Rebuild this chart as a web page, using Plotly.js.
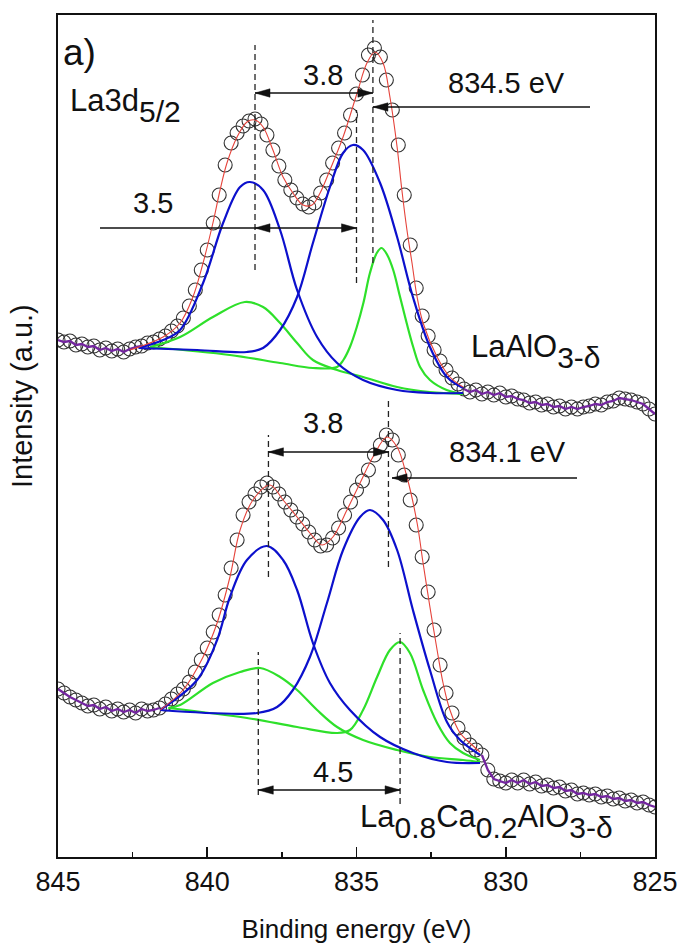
<!DOCTYPE html>
<html>
<head>
<meta charset="utf-8">
<script src="https://cdn.plot.ly/plotly-3.0.1.min.js"></script>
<style>html,body{margin:0;padding:0;background:#fff;}#chart{width:681px;height:952px;}</style>
</head>
<body>
<div id="chart"></div>
<script>
// ---------- data (binding energy in eV, intensity in a.u.) ----------
const energy = [845.0,844.8,844.6,844.4,844.2,844.0,843.8,843.6,843.4,843.2,843.0,842.8,842.6,842.4,842.2,842.0,841.8,841.6,841.4,841.2,841.0,840.8,840.6,840.4,840.2,840.0,839.8,839.6,839.4,839.2,839.0,838.8,838.6,838.4,838.2,838.0,837.8,837.6,837.4,837.2,837.0,836.8,836.6,836.4,836.2,836.0,835.8,835.6,835.4,835.2,835.0,834.8,834.6,834.4,834.2,834.0,833.8,833.6,833.4,833.2,833.0,832.8,832.6,832.4,832.2,832.0,831.8,831.6,831.4,831.2,831.0,830.8,830.6,830.4,830.2,830.0,829.8,829.6,829.4,829.2,829.0,828.8,828.6,828.4,828.2,828.0,827.8,827.6,827.4,827.2,827.0,826.8,826.6,826.4,826.2,826.0,825.8,825.6,825.4,825.2,825.0];

// LaAlO3-d measured spectrum
const topData = [517,515,516,512,513,510,511,507,509,506,508,505,508,510,511,514,515,518,521,526,531,539,551,567,587,607,634,662,692,714,724,731,736,738,733,722,707,691,677,667,659,653,650,654,664,677,694,709,724,742,763,782,802,809,800,777,747,712,662,612,569,541,521,507,496,487,479,473,468,465,467,463,465,462,464,460,461,458,457,454,455,452,453,450,451,448,450,448,450,451,453,452,455,456,459,458,457,455,453,448,443];
// La0.8Ca0.2AlO3-d measured spectrum
const botData = [168,164,160,157,154,151,152,148,150,146,148,145,147,144,148,146,147,149,153,158,163,168,175,185,197,209,225,242,262,289,317,342,355,363,370,374,370,363,355,347,340,333,325,317,311,312,319,329,342,355,367,376,387,402,412,422,417,402,382,357,332,300,265,227,192,164,144,129,119,112,107,102,87,78,76,74,77,74,77,73,75,71,72,69,70,66,67,63,64,62,63,60,61,58,59,56,57,54,55,52,50];

// fitted envelopes
const topFitE = [842.59,841.48,840.91,840.48,840.14,839.81,839.57,839.34,839.00,838.67,838.40,838.13,837.80,837.46,837.13,836.79,836.49,836.22,835.89,835.45,834.98,834.65,834.38,834.11,833.88,833.64,833.48,833.31,833.14,832.97,832.77,832.30,831.87,831.43];
const topFitI = [507,520,534,560,594,634,667,694,720,735,737,730,707,680,664,652,652,664,687,720,764,794,805,794,760,710,667,627,594,560,534,500,480,470];
const botFitE = [841.58,840.81,840.14,839.67,839.24,838.90,838.47,837.90,837.46,836.99,836.56,836.16,835.79,835.32,834.88,834.45,833.98,833.64,833.31,832.97,832.77,832.54,832.30,832.10,831.87,831.53,831.20,830.86];
const botFitI = [147,167,200,234,280,327,357,372,357,340,324,312,320,347,374,400,420,410,380,334,294,250,207,174,147,124,114,105];

// fitted components, LaAlO3-d
const topBlue1E = [842.30,841.48,840.91,840.14,839.47,838.90,838.57,838.13,837.56,836.99,836.32,835.65,834.78,833.64,832.54,831.43];
const topBlue1I = [509,517,527,574,634,670,675,667,627,567,520,494,477,467,464,464];
const topBlue2E = [842.30,840.34,838.67,838.13,837.56,836.99,836.46,835.89,835.45,835.12,834.78,834.21,833.64,833.11,832.54,831.97,831.43];
const topBlue2I = [509,507,505,509,527,560,614,670,704,712,707,674,620,560,510,480,469];
const topGreen1E = [841.92,840.91,839.81,838.74,838.13,837.56,836.99,836.46,835.65,834.78,833.64,832.54,831.43];
const topGreen1I = [510,520,540,555,550,534,514,497,487,480,470,465,463];
const topGreen2E = [841.92,839.24,837.56,836.46,835.65,835.44,835.22,834.99,834.77,834.55,834.32,834.16,833.97,833.77,833.54,833.32,833.10,832.87,832.54,831.98,831.43];
const topGreen2I = [510,502,494,489,490,497,510,530,554,584,604,609,602,587,560,534,510,490,477,467,463];

// fitted components, La0.8Ca0.2AlO3-d
const botBlue1E = [841.58,840.34,839.67,839.24,838.67,838.00,837.46,836.99,836.46,835.89,835.22,834.21,833.11,831.97,830.86];
const botBlue1I = [147,177,217,260,297,311,297,267,214,174,147,120,104,95,94];
const botBlue2E = [841.58,838.33,837.66,837.13,836.56,835.99,835.45,834.88,834.55,834.11,833.64,833.11,832.54,831.97,831.53,830.86];
const botBlue2I = [147,144,150,167,200,254,307,340,347,337,307,247,187,135,117,102];
const botGreen1E = [841.30,840.91,839.81,838.90,838.23,837.56,836.99,836.32,835.65,834.78,833.64,832.54,831.43,830.86];
const botGreen1I = [149,152,174,185,189,180,167,147,130,117,107,100,97,95];
const botGreen2E = [841.30,838.67,836.99,835.65,835.22,834.78,834.31,833.88,833.54,833.21,832.77,832.30,831.87,831.43,830.86];
const botGreen2I = [149,139,130,124,127,147,180,207,215,204,167,134,114,104,97];

// annotated energies (eV)
const topMarks = [838.40, 835.00, 834.45];
const botMarks = [837.95, 833.93];
const botLowMarks = [838.29, 833.54];
const tickVals = [845, 840, 835, 830, 825];
const tickText = ['845', '840', '835', '830', '825'];

// ---------- helpers (placement of text only) ----------
const PX0 = 58, PXW = 597, PY0 = 15, PYH = 842, EMAX = 845, EMIN = 825, IMAX = 842;
const X = px => EMAX - (px - PX0) * (EMAX - EMIN) / PXW;
const Y = py => IMAX - (py - PY0) * IMAX / PYH;
const EPP = (EMAX - EMIN) / PXW; // eV per pixel
const IPP = IMAX / PYH;          // intensity per pixel

const FONT = 'Liberation Sans, Arial, Helvetica, sans-serif';
const BLUE = '#0c10cc', GREEN = '#2ee02a', RED = '#e5433b', PURPLE = '#7426a0';

function line(x, y, color, width, shape) {
  return {x, y, type: 'scatter', mode: 'lines', hoverinfo: 'skip',
    line: {color, width, shape: shape || 'spline', smoothing: 1}};
}
function circles(x, y) {
  return {x, y, type: 'scatter', mode: 'markers', hoverinfo: 'skip',
    marker: {symbol: 'circle-open', size: 14, color: '#333', line: {width: 1.1, color: '#333'}}};
}

const traces = [
  circles(energy, topData),
  circles(energy, botData),
  line(energy.slice(0, 15), topData.slice(0, 15), PURPLE, 2.3, 'linear'),
  line(energy.slice(68), topData.slice(68), PURPLE, 2.3, 'linear'),
  line(energy.slice(0, 18), botData.slice(0, 18), PURPLE, 2.3, 'linear'),
  line(energy.slice(71), botData.slice(71), PURPLE, 2.3, 'linear'),
  line(topGreen1E, topGreen1I, GREEN, 2.2),
  line(topGreen2E, topGreen2I, GREEN, 2.2),
  line(botGreen1E, botGreen1I, GREEN, 2.2),
  line(botGreen2E, botGreen2I, GREEN, 2.2),
  line(topBlue1E, topBlue1I, BLUE, 2.2),
  line(topBlue2E, topBlue2I, BLUE, 2.2),
  line(botBlue1E, botBlue1I, BLUE, 2.2),
  line(botBlue2E, botBlue2I, BLUE, 2.2),
  line(topFitE, topFitI, RED, 1.1),
  line(botFitE, botFitI, RED, 1.1)
];

// ---------- shapes ----------
const shapes = [];
function vdash(e, i0, i1) {
  shapes.push({type: 'line', xref: 'x', yref: 'y', x0: e, x1: e, y0: i0, y1: i1,
    line: {color: '#222', width: 1.3, dash: '6px,4px'}});
}
function hline(e0, e1, i) {
  shapes.push({type: 'line', xref: 'x', yref: 'y', x0: e0, x1: e1, y0: i, y1: i,
    line: {color: '#111', width: 1.3}});
}
function head(e, i, dir) { // dir: 'left' (towards higher eV) or 'right'
  const L = 15 * EPP, W = 4.2 * IPP;
  const b = dir === 'left' ? e - L : e + L;
  shapes.push({type: 'path', xref: 'x', yref: 'y',
    path: `M ${e},${i} L ${b},${i + W} L ${b},${i - W} Z`,
    fillcolor: '#111', line: {color: '#111', width: 0.5}});
}

// top spectrum
vdash(topMarks[0], Y(270), Y(45));
vdash(topMarks[1], Y(283), Y(110));
vdash(topMarks[2], Y(263), Y(20));
hline(topMarks[0], topMarks[2], Y(93)); head(topMarks[0], Y(93), 'left'); head(topMarks[2], Y(93), 'right');
hline(X(100), topMarks[1], Y(228)); head(topMarks[0], Y(228), 'left'); head(topMarks[1], Y(228), 'right');
hline(X(590), topMarks[2], Y(107)); head(topMarks[2], Y(107), 'left');
// bottom spectrum
vdash(botMarks[0], Y(577), Y(435));
vdash(botMarks[1], Y(567), Y(398));
vdash(botLowMarks[0], Y(795), Y(652));
vdash(botLowMarks[1], Y(804), Y(633));
hline(botMarks[0], botMarks[1], Y(452)); head(botMarks[0], Y(452), 'left'); head(botMarks[1], Y(452), 'right');
hline(X(577), X(392), Y(478)); head(X(392), Y(478), 'left');
hline(botLowMarks[0], botLowMarks[1], Y(790)); head(botLowMarks[0], Y(790), 'left'); head(botLowMarks[1], Y(790), 'right');

// ---------- text ----------
const SUB = '<span style="font-size:30px;baseline-shift:-11px">';
function txt(text, px, py, size, anchor) {
  return {text, x: X(px), y: Y(py), xref: 'x', yref: 'y', showarrow: false,
    xanchor: anchor || 'center', yanchor: 'middle', borderpad: 0, borderwidth: 0,
    font: {family: FONT, size, color: '#111'}};
}
const annotations = [
  txt('a)', 63, 52, 37, 'left'),
  txt('La3d' + SUB + '5/2</span>', 70, 105, 31, 'left'),
  txt('3.8', 323, 75, 29),
  txt('3.5', 153, 203, 29),
  txt('834.5 eV', 506, 83, 29),
  txt('LaAlO' + SUB + '3-δ</span>', 471, 351, 31, 'left'),
  txt('3.8', 323, 423, 29),
  txt('834.1 eV', 507, 452, 29),
  txt('4.5', 333, 772, 29),
  txt('La' + SUB + '0.8</span>Ca' + SUB + '0.2</span>AlO' + SUB + '3-δ</span>', 360, 821, 31, 'left'),
  {text: 'Intensity (a.u.)', xref: 'paper', yref: 'y', x: (22 - PX0) / PXW, y: Y(396),
   showarrow: false, textangle: -90, xanchor: 'center', yanchor: 'middle', borderwidth: 0,
   font: {family: FONT, size: 29, color: '#111'}}
];

const layout = {
  width: 681, height: 952,
  margin: {l: 58, r: 26, t: 15, b: 95},
  paper_bgcolor: '#fff', plot_bgcolor: '#fff',
  showlegend: false,
  font: {family: FONT, color: '#111'},
  xaxis: {
    range: [EMAX, EMIN], tickmode: 'array', tickvals: tickVals, ticktext: tickText,
    ticks: 'inside', ticklen: 10, tickwidth: 1.6, tickcolor: '#111',
    minor: {tick0: 825, dtick: 2.5, ticks: 'inside', ticklen: 5, tickwidth: 1.6, tickcolor: '#111'},
    showline: true, linewidth: 2, linecolor: '#111', mirror: true,
    showgrid: false, zeroline: false,
    tickfont: {family: FONT, size: 27, color: '#111'},
    title: {text: 'Binding energy (eV)', font: {family: FONT, size: 26, color: '#111'}, standoff: 23}
  },
  yaxis: {
    range: [0, IMAX], showticklabels: false, ticks: '',
    showline: true, linewidth: 2, linecolor: '#111', mirror: true,
    showgrid: false, zeroline: false
  },
  shapes, annotations
};

Plotly.newPlot('chart', traces, layout, {staticPlot: true, displayModeBar: false});
</script>
</body>
</html>
